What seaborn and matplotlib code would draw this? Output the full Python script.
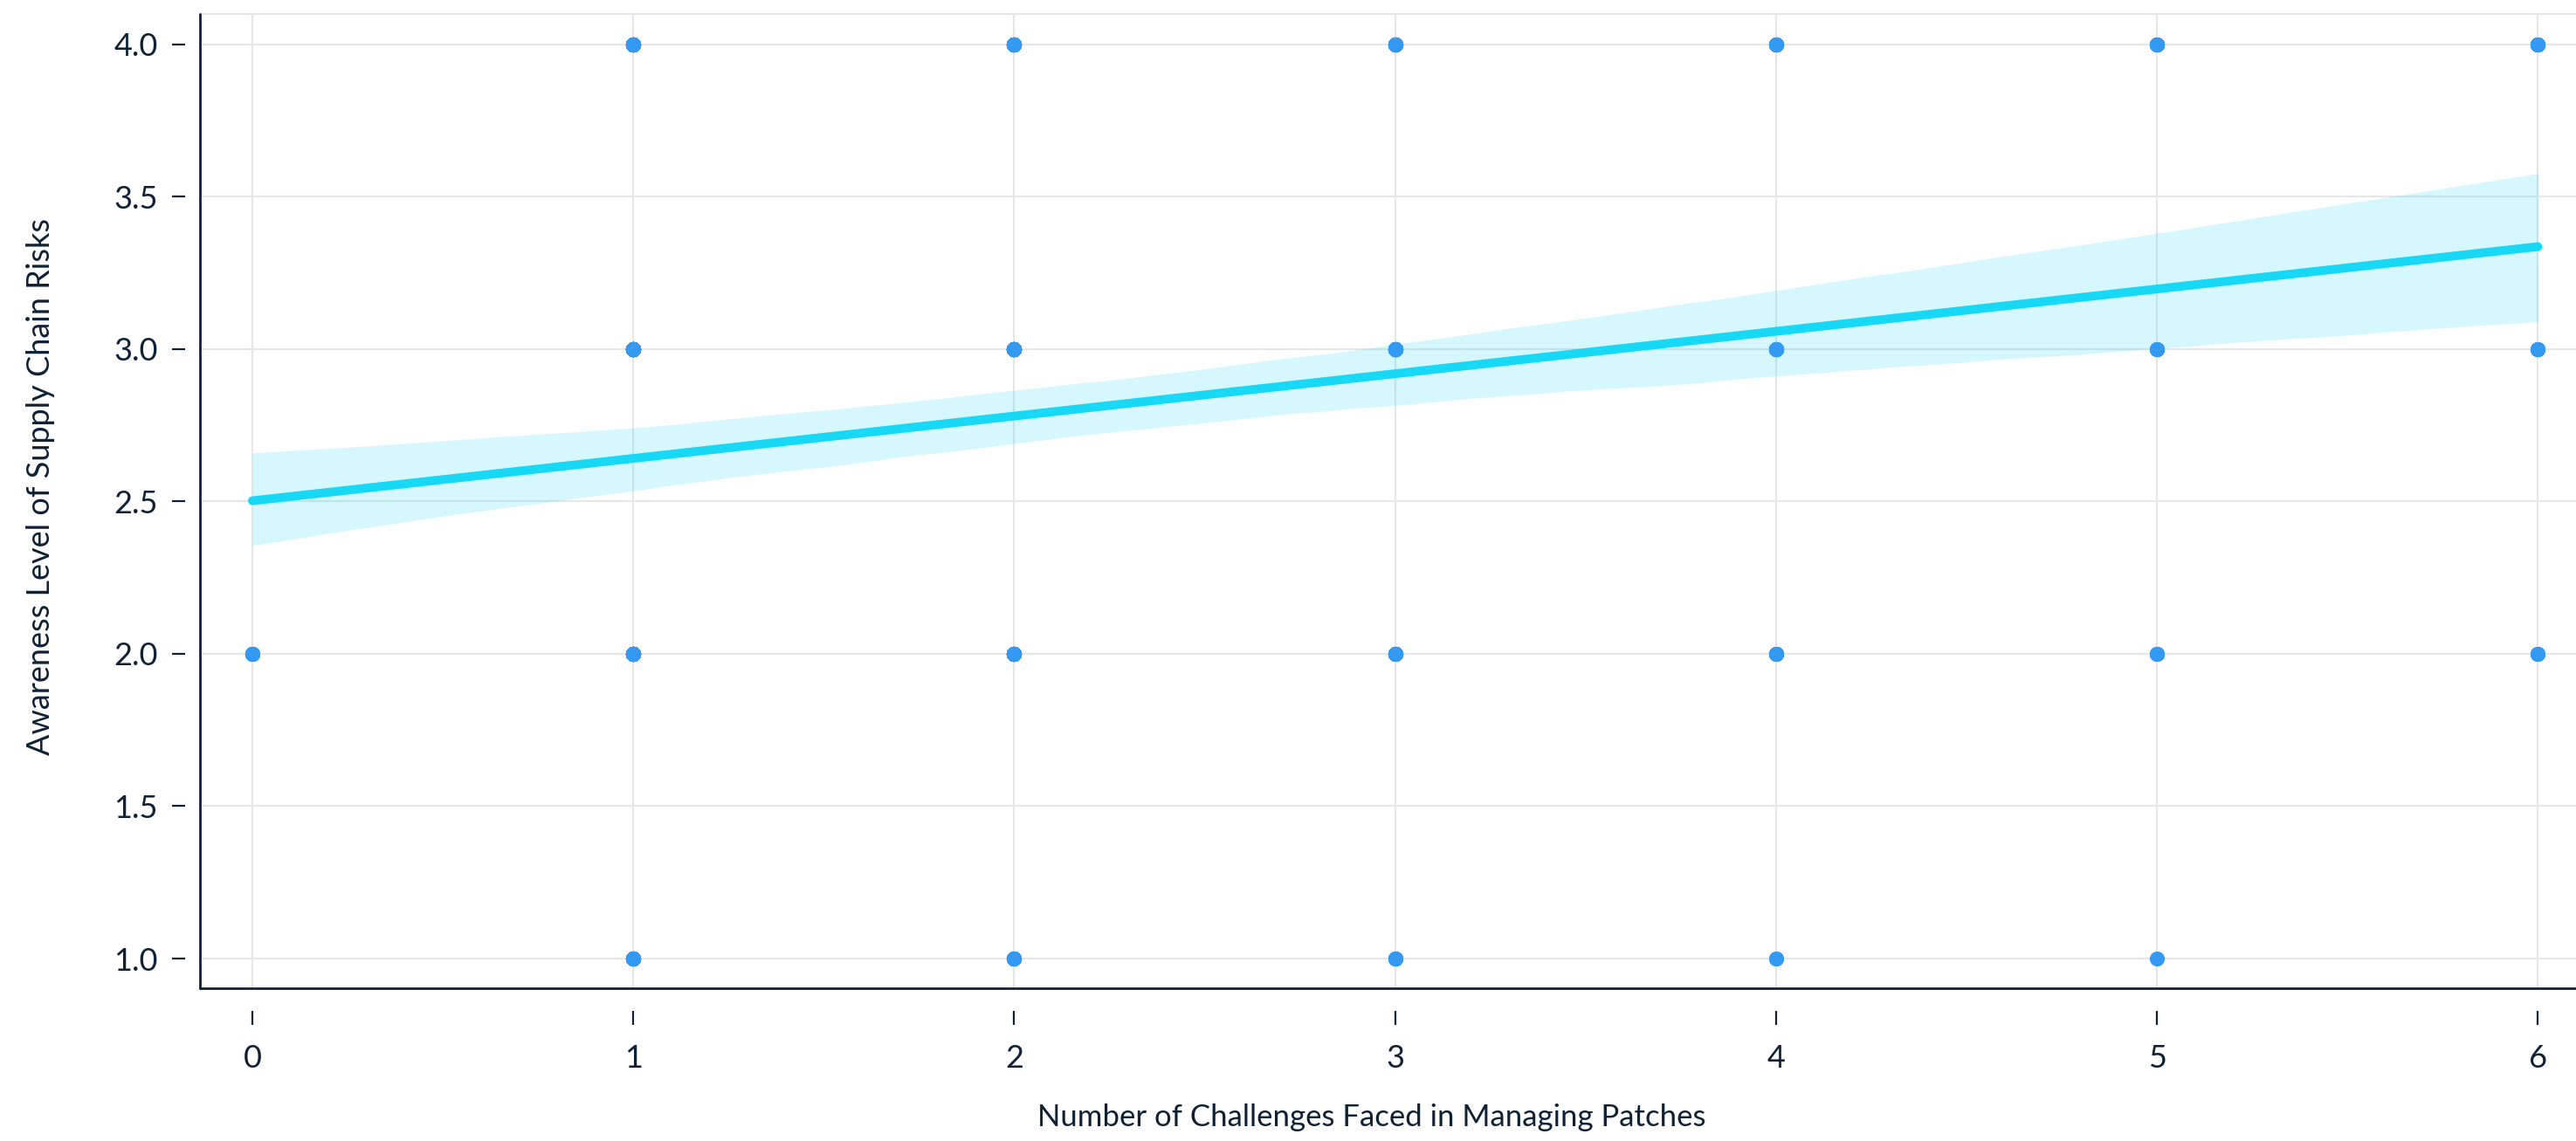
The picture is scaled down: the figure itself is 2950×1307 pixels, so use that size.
import numpy as np
import pandas as pd
import matplotlib
matplotlib.use("Agg")
import matplotlib.pyplot as plt
import seaborn as sns

# survey responses: number of patch challenges vs. awareness of supply chain risks
challenges = [0, 1, 2, 3, 4, 5, 6]
awareness_levels = [1, 2, 3, 4]

# how many respondents sit on each awareness level (1..4) for every challenge count
counts_0 = [0, 8, 0, 0]
counts_1 = [21, 50, 69, 35]
counts_2 = [12, 33, 50, 30]
counts_3 = [5, 14, 24, 17]
counts_4 = [2, 7, 13, 13]
counts_5 = [1, 4, 5, 10]
counts_6 = [0, 3, 4, 8]

all_counts = [counts_0, counts_1, counts_2, counts_3, counts_4, counts_5, counts_6]

rows = []
for x, cnts in zip(challenges, all_counts):
    for y, c in zip(awareness_levels, cnts):
        rows += [(x, y)] * c
df = pd.DataFrame(rows, columns=["challenges", "awareness"])

navy = "#0f2136"
sns.set_style("white")
plt.rcParams["font.family"] = ["Lato", "DejaVu Sans"]
plt.rcParams["font.size"] = 12.5

fig = plt.figure(figsize=(14.75, 6.535), dpi=200)
ax = fig.add_axes([229 / 2950, 1 - 1132 / 1307, (2950 - 229) / 2950, (1132 - 16) / 1307])

sns.regplot(data=df, x="challenges", y="awareness", ax=ax, ci=95, seed=0,
            scatter_kws={"s": 38, "color": "#3399f2", "alpha": 1, "linewidths": 0, "zorder": 3},
            line_kws={"color": "#17d8f5", "lw": 3.6, "zorder": 2})

# a bit stronger band than the default
for coll in ax.collections[1:]:
    coll.set_alpha(0.18)
    coll.set_linewidth(0)

ax.set_xlim(-0.1376, 6.10)
ax.set_ylim(0.9026, 4.10)
ax.set_xticks(challenges)
ax.set_yticks([1.0, 1.5, 2.0, 2.5, 3.0, 3.5, 4.0])
ax.set_yticklabels(["1.0", "1.5", "2.0", "2.5", "3.0", "3.5", "4.0"])

ax.grid(True, color="#e6e6e6", lw=0.75)
ax.set_axisbelow(True)

# ticks sit detached from the axis lines
ax.spines["bottom"].set_position(("outward", 9.4))
ax.spines["left"].set_position(("outward", 6.1))
for s in ["bottom", "left", "right"]:
    ax.spines[s].set_visible(False)
ax.spines["top"].set_color("#e6e6e6")
ax.spines["top"].set_linewidth(0.75)

ax.plot([0, 1], [0, 0], transform=ax.transAxes, color=navy, lw=1.0, clip_on=False, zorder=5)
ax.plot([0, 0], [0, 1], transform=ax.transAxes, color=navy, lw=1.0, clip_on=False, zorder=5)

ax.tick_params(axis="x", direction="out", length=5.8, width=0.8, pad=7.9, color=navy, labelcolor=navy, labelsize=13)
ax.tick_params(axis="y", direction="out", length=5.4, width=0.8, pad=5.8, color=navy, labelcolor=navy, labelsize=13)
ax.xaxis.set_ticks_position("bottom")
ax.yaxis.set_ticks_position("left")

ax.set_xlabel("Number of Challenges Faced in Managing Patches", color=navy, fontsize=12.5)
ax.set_ylabel("Awareness Level of Supply Chain Risks", color=navy, fontsize=13)
ax.xaxis.set_label_coords(0.493, -0.118)
ax.yaxis.set_label_coords(-0.061, 0.515)

fig.savefig("out.png", dpi=200)
